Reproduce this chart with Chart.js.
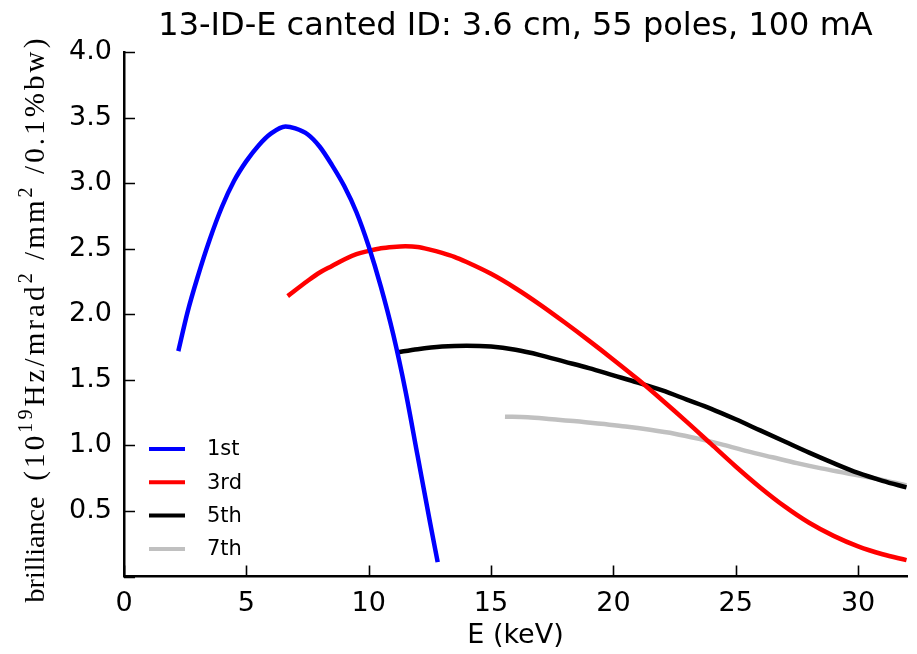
<!DOCTYPE html>
<html>
<head>
<meta charset="utf-8">
<script src="https://cdn.jsdelivr.net/npm/chart.js@4.4.1/dist/chart.umd.min.js"></script>
<style>
  html, body { margin: 0; padding: 0; background: #fff; }
  #wrap { width: 917px; height: 654px; }
</style>
</head>
<body>
<div id="wrap"><canvas id="chart" width="917" height="654"></canvas></div>
<script>
// harmonic curves (E in keV, brilliance in 1e19 units)
const E1 = [2.22, 2.6, 3.0, 3.5, 4.0, 4.5, 5.0, 5.5, 6.0, 6.6, 7.0, 7.5, 8.0, 8.5, 9.0, 9.5, 10.0, 10.5, 11.0, 11.5, 12.0, 12.5, 12.82];
const B1 = [1.72, 2.02, 2.28, 2.57, 2.82, 3.02, 3.17, 3.29, 3.38, 3.435, 3.42, 3.375, 3.28, 3.14, 2.98, 2.78, 2.52, 2.21, 1.85, 1.42, 0.92, 0.42, 0.11];

const E3 = [6.69, 7.5, 8.0, 8.5, 9.0, 9.5, 10.0, 10.5, 11.0, 11.5, 12.0, 12.5, 13.0, 13.5, 14.0, 15.0, 16.0, 17.0, 18.0, 19.0, 20.0, 21.0, 22.0, 23.0, 24.0, 25.0, 26.0, 27.0, 28.0, 29.0, 30.0, 31.0, 31.98];
const B3 = [2.14, 2.255, 2.32, 2.37, 2.42, 2.46, 2.485, 2.505, 2.515, 2.52, 2.515, 2.495, 2.47, 2.44, 2.40, 2.31, 2.20, 2.075, 1.94, 1.80, 1.655, 1.505, 1.345, 1.18, 1.01, 0.84, 0.68, 0.535, 0.41, 0.31, 0.23, 0.17, 0.125];

const E5 = [11.14, 12.0, 13.0, 14.0, 15.0, 16.0, 17.0, 18.0, 19.0, 20.0, 21.0, 22.0, 23.0, 24.0, 25.0, 26.0, 27.0, 28.0, 29.0, 30.0, 31.0, 31.98];
const B5 = [1.71, 1.735, 1.755, 1.762, 1.755, 1.73, 1.69, 1.64, 1.59, 1.535, 1.48, 1.42, 1.35, 1.28, 1.20, 1.115, 1.03, 0.945, 0.865, 0.79, 0.73, 0.68];

const E7 = [15.57, 16.5, 17.5, 18.5, 19.5, 20.5, 21.5, 22.5, 23.5, 24.5, 25.5, 26.5, 27.5, 28.5, 29.5, 30.5, 31.5, 31.98];
const B7 = [1.22, 1.215, 1.20, 1.185, 1.165, 1.145, 1.12, 1.09, 1.05, 1.005, 0.955, 0.91, 0.865, 0.825, 0.79, 0.755, 0.715, 0.695];

const SERIES_LABELS = ['1st', '3rd', '5th', '7th'];
const SERIES_COLORS = ['#0000ff', '#ff0000', '#000000', '#c0c0c0'];

const X_MIN = 0, X_MAX = 32, X_STEP = 5;
const Y_MIN = 0, Y_MAX = 4, Y_STEP = 0.5;

const TITLE = '13-ID-E canted ID: 3.6 cm, 55 poles, 100 mA';
const X_LABEL = 'E (keV)';
// y label: plain word, then the unit part with raised exponents
const Y_WORD = 'brilliance';
const Y_UNITS = [['(10', 0], ['19', 1], ['Hz/mrad', 0], ['2', 1], [' /mm', 0], ['2', 1], [' /0.1%bw)', 0]];

const sans = 'DejaVu Sans';
const tickFont = { family: sans, size: 27 };

const toPoints = (xs, ys) => xs.map((x, i) => ({ x, y: ys[i] }));

// matplotlib style ticks pointing into the axes
const inwardTicks = {
    id: 'inwardTicks',
    afterDatasetsDraw(chart) {
        const { ctx, chartArea: a, scales } = chart;
        const len = 11;
        ctx.save();
        ctx.strokeStyle = '#000';
        ctx.lineWidth = 1.6;
        ctx.beginPath();
        scales.x.ticks.forEach(t => {
            const px = Math.round(scales.x.getPixelForValue(t.value)) + 0.5;
            ctx.moveTo(px, a.bottom);
            ctx.lineTo(px, a.bottom - len);
        });
        scales.y.ticks.forEach(t => {
            const py = Math.round(scales.y.getPixelForValue(t.value)) + 0.5;
            ctx.moveTo(a.left, py);
            ctx.lineTo(a.left + len, py);
        });
        ctx.stroke();
        ctx.restore();
    }
};

// legend without frame, lower left inside the axes
const cornerLegend = {
    id: 'cornerLegend',
    afterDraw(chart) {
        const { ctx, chartArea: a } = chart;
        ctx.save();
        ctx.font = '21px "DejaVu Sans"';
        ctx.textBaseline = 'middle';
        ctx.fillStyle = '#000';
        chart.data.datasets.forEach((ds, i) => {
            const y = a.bottom - 127.5 + i * 33.3;
            ctx.strokeStyle = ds.borderColor;
            ctx.lineWidth = 4;
            ctx.beginPath();
            ctx.moveTo(a.left + 25, y);
            ctx.lineTo(a.left + 61, y);
            ctx.stroke();
            ctx.fillText(ds.label, a.left + 83, y + 1);
        });
        ctx.restore();
    }
};

// rotated serif y label, drawn char by char so the unit part can be spaced out
const yLabel = {
    id: 'yLabel',
    afterDraw(chart) {
        const { ctx } = chart;
        const wordSize = 28, unitSize = 29, sp = 3.1, gap = 16;
        const f = s => `${s}px "Liberation Serif"`;
        const runs = [[Y_WORD, 0, wordSize, 0]];
        Y_UNITS.forEach(([t, sup]) => runs.push([t, sup, sup ? Math.round(unitSize * 0.7) : unitSize, sp]));
        ctx.save();
        ctx.fillStyle = '#000';
        const adv = (ch, size, s) => { ctx.font = f(size); return ctx.measureText(ch).width + s; };
        let total = gap;
        runs.forEach(([t, , size, s]) => { for (const ch of t) total += adv(ch, size, s); });
        ctx.translate(44, 319);
        ctx.rotate(-Math.PI / 2);
        let x = -total / 2;
        runs.forEach(([t, sup, size, s], i) => {
            ctx.font = f(size);
            for (const ch of t) {
                ctx.fillText(ch, x, sup ? -unitSize * 0.42 : 0);
                x += ctx.measureText(ch).width + s;
            }
            if (i === 0) x += gap;
        });
        ctx.restore();
    }
};

const datasets = [
    toPoints(E1, B1), toPoints(E3, B3), toPoints(E5, B5), toPoints(E7, B7)
].map((data, i) => ({
    label: SERIES_LABELS[i],
    data,
    borderColor: SERIES_COLORS[i],
    borderWidth: 4.5,
    pointRadius: 0,
    fill: false,
    cubicInterpolationMode: 'monotone'
}));

new Chart(document.getElementById('chart'), {
    type: 'line',
    data: { datasets },
    options: {
        responsive: false,
        animation: false,
        layout: { padding: { left: 0, right: 10, top: 0, bottom: 0 } },
        plugins: {
            legend: { display: false },
            tooltip: { enabled: false },
            title: {
                display: true,
                text: TITLE,
                fullSize: false,
                color: '#000',
                font: { family: sans, size: 32, weight: 'normal' },
                padding: { top: 7, bottom: 7 }
            }
        },
        scales: {
            x: {
                type: 'linear',
                min: X_MIN,
                max: X_MAX,
                afterFit: s => { s.height = 77.5; },
                ticks: { stepSize: X_STEP, includeBounds: false, padding: 11, color: '#000', font: tickFont, maxRotation: 0 },
                grid: { display: false, drawTicks: false },
                border: { display: true, color: '#000', width: 2.5 },
                title: { display: true, text: X_LABEL, color: '#000', font: tickFont, padding: { top: 0, bottom: 2 } }
            },
            y: {
                min: Y_MIN,
                max: Y_MAX,
                afterFit: s => { s.width = 124; },
                ticks: {
                    stepSize: Y_STEP,
                    padding: 12,
                    color: '#000',
                    font: tickFont,
                    callback: v => (v === 0 ? '' : v.toFixed(1))
                },
                grid: { display: false, drawTicks: false },
                border: { display: true, color: '#000', width: 2.5 }
            }
        }
    },
    plugins: [inwardTicks, cornerLegend, yLabel]
});
</script>
</body>
</html>
